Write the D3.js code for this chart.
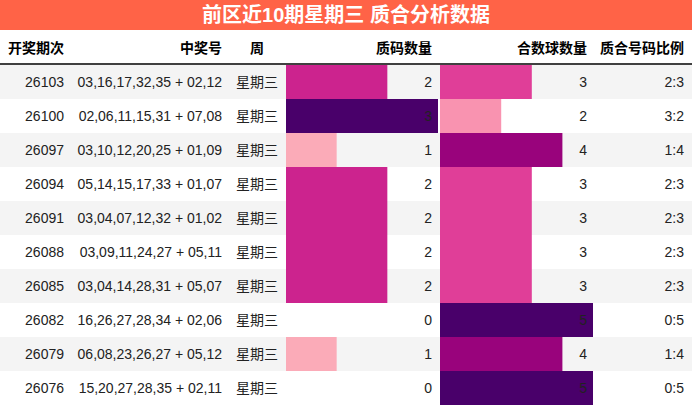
<!DOCTYPE html>
<html><head><meta charset="utf-8">
<script src="https://cdn.jsdelivr.net/npm/d3@7"></script>
<style>body{margin:0;background:#fff}text{font-family:"Liberation Sans","Noto Sans CJK SC",sans-serif}</style>
</head><body><svg id="c" width="692" height="406"></svg>
<script>
var periods = ["26103","26100","26097","26094","26091","26088","26085","26082","26079","26076"];
var numbers = ["03,16,17,32,35 + 02,12","02,06,11,15,31 + 07,08","03,10,12,20,25 + 01,09","05,14,15,17,33 + 01,07","03,04,07,12,32 + 01,02","03,09,11,24,27 + 05,11","03,04,14,28,31 + 05,07","16,26,27,28,34 + 02,06","06,08,23,26,27 + 05,12","15,20,27,28,35 + 02,11"];
var weekday = "星期三";
var primes = [2,3,1,2,2,2,2,0,1,0];
var composites = [3,2,4,3,3,3,3,5,4,5];
var ratios = ["2:3","3:2","1:4","2:3","2:3","2:3","2:3","0:5","1:4","0:5"];
var headers = ["开奖期次","中奖号","周","质码数量","合数球数量","质合号码比例"];

var svg = d3.select("#c");
//Title bar//
svg.append("rect").attr("x",0).attr("y",0).attr("width",692).attr("height",30).attr("fill","#ff6347");
svg.append("text").attr("x",346).attr("y",22).attr("text-anchor","middle").attr("fill","#fff")
  .attr("font-size","20px").attr("font-weight","bold").text("前区近10期星期三 质合分析数据");

//Header row//
var hx = [8,222,257,432,587,684], ha = ["start","end","middle","end","end","end"];
headers.forEach(function(h,i){
  svg.append("text").attr("x",hx[i]).attr("y",53).attr("text-anchor",ha[i])
    .attr("font-size","14px").attr("font-weight","bold").text(h);
});
svg.append("line").attr("x1",0).attr("x2",692).attr("y1",64).attr("y2",64).attr("stroke","#000").attr("stroke-width",1.5);

var y = d3.scaleBand().domain(periods).range([65,405]);
var xp = d3.scaleLinear().domain([0,3]).range([286,438]);
var xc = d3.scaleLinear().domain([0,5]).range([440,593]);
var cp = d3.scaleSequential(d3.interpolateRdPu).domain([0,3]);
var cc = d3.scaleSequential(d3.interpolateRdPu).domain([0,5]);

var rows = svg.selectAll("g.row").data(periods).enter().append("g")
  .attr("transform",function(d){return "translate(0,"+y(d)+")";});
var bh = y.bandwidth();
rows.append("rect").attr("width",692).attr("height",bh)
  .attr("fill",function(d,i){return i%2==0 ? "#f4f4f4" : "#fff";});
rows.append("rect").attr("x",xp(0)).attr("height",bh)
  .attr("width",function(d,i){return xp(primes[i])-xp(0);})
  .attr("fill",function(d,i){return cp(primes[i]);});
rows.append("rect").attr("x",xc(0)).attr("height",bh)
  .attr("width",function(d,i){return xc(composites[i])-xc(0);})
  .attr("fill",function(d,i){return cc(composites[i]);});

function col(x,anchor,f){
  rows.append("text").attr("x",x).attr("y",bh/2+5).attr("text-anchor",anchor)
    .attr("font-size","14px").attr("fill","#222").text(f);
}
col(64,"end",function(d){return d;});
col(222,"end",function(d,i){return numbers[i];});
col(257,"middle",function(){return weekday;});
col(432,"end",function(d,i){return primes[i];});
col(587,"end",function(d,i){return composites[i];});
col(684,"end",function(d,i){return ratios[i];});
</script></body></html>
